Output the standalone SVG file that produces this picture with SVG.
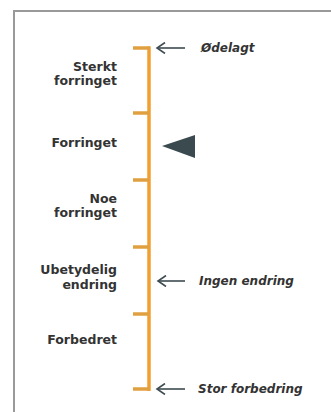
<svg xmlns="http://www.w3.org/2000/svg" width="331" height="412" viewBox="0 0 331 412">
<style>
.lbl{font-family:"DejaVu Sans",sans-serif;font-weight:bold;font-size:12.5px;fill:#333;text-anchor:end}
.rl{font-family:"DejaVu Sans",sans-serif;font-weight:bold;font-style:italic;font-size:12px;fill:#333}
.tick{stroke:#e0a040;stroke-width:3.5;fill:none}
.arr{stroke:#3d4b50;stroke-width:1.6;fill:none}
</style>
<defs>
<marker id="ah" markerWidth="11" markerHeight="12" refX="9" refY="6" orient="auto" markerUnits="userSpaceOnUse">
<path d="M1,0.5 L9,6 L1,11.5" stroke="#3d4b50" stroke-width="1.6" fill="none"/>
</marker>
</defs>
<rect x="14" y="11" width="340" height="420" fill="#fff" stroke="#999" stroke-width="2"/>
<g id="scale">
<line x1="149" y1="46.5" x2="149" y2="391" stroke="#f0a030" stroke-width="3.5"/>
<line class="tick" x1="133" y1="48" x2="150" y2="48"/>
<line class="tick" x1="133" y1="113" x2="149" y2="113"/>
<line class="tick" x1="133" y1="180" x2="149" y2="180"/>
<line class="tick" x1="133" y1="247" x2="149" y2="247"/>
<line class="tick" x1="133" y1="314" x2="149" y2="314"/>
<line class="tick" x1="133" y1="389" x2="150" y2="389"/>
</g>
<g id="labels">
<text class="lbl" x="117" y="71">Sterkt</text>
<text class="lbl" x="117" y="85">forringet</text>
<text class="lbl" x="117" y="147">Forringet</text>
<text class="lbl" x="117" y="203">Noe</text>
<text class="lbl" x="117" y="217">forringet</text>
<text class="lbl" x="117" y="274">Ubetydelig</text>
<text class="lbl" x="117" y="289">endring</text>
<text class="lbl" x="117" y="344">Forbedret</text>
</g>
<g id="connectors">
<line class="arr" x1="185" y1="48" x2="157" y2="48" marker-end="url(#ah)"/>
<line class="arr" x1="185" y1="281" x2="158" y2="281" marker-end="url(#ah)"/>
<line class="arr" x1="185" y1="389" x2="157" y2="389" marker-end="url(#ah)"/>
</g>
<g id="n-odelagt"><text class="rl" x="201" y="52">Ødelagt</text></g>
<g id="n-ingen"><text class="rl" x="199" y="285">Ingen endring</text></g>
<g id="n-stor"><text class="rl" x="198" y="393">Stor forbedring</text></g>
<g id="pointer"><polygon points="162,146 195,135 195,158" fill="#3a4a4f"/></g>
</svg>
